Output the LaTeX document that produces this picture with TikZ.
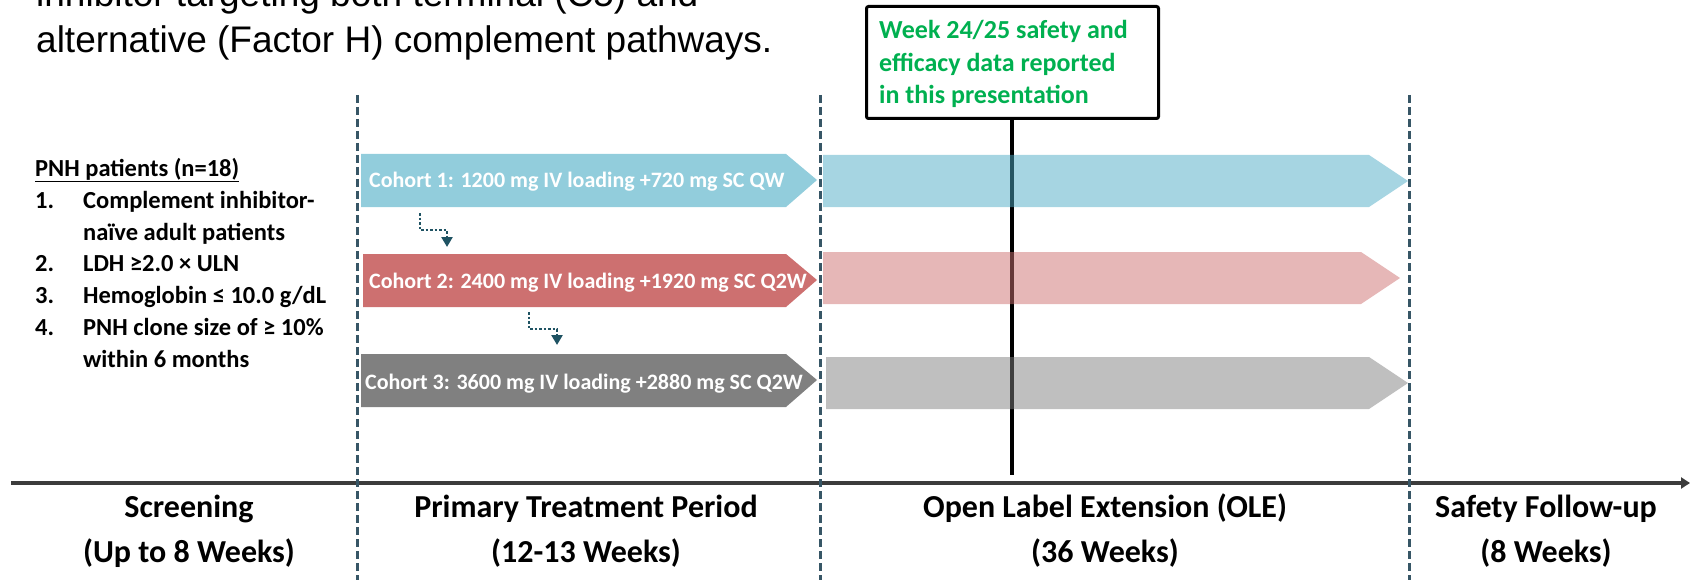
\documentclass[tikz,border=0pt]{standalone}
\usepackage{fontspec}
\setmainfont{Carlito}
\newfontfamily\arialfont{Liberation Sans}
\usetikzlibrary{arrows.meta}

\definecolor{cohortA}{RGB}{146,205,220}
\definecolor{cohortB}{RGB}{205,112,112}
\definecolor{cohortC}{RGB}{128,128,128}
\definecolor{oleA}{RGB}{77,171,197}
\definecolor{oleB}{RGB}{205,112,112}
\definecolor{oleC}{RGB}{127,127,127}
\definecolor{phaseline}{RGB}{55,86,102}
\definecolor{stepline}{RGB}{31,83,99}
\definecolor{axisgray}{RGB}{60,60,60}
\definecolor{reportgreen}{RGB}{0,176,80}

\begin{document}
\begin{tikzpicture}[x=1pt,y=-1pt,
  cohorttext/.style={anchor=base west, inner sep=0pt, text=white,
    font=\fontsize{22}{26}\selectfont\bfseries},
  listtext/.style={anchor=base west, inner sep=0pt,
    font=\fontsize{24.5}{28}\selectfont\bfseries},
  phasetext/.style={anchor=base, inner sep=0pt,
    font=\fontsize{32}{38}\selectfont\bfseries},
  greentext/.style={anchor=base west, inner sep=0pt, text=reportgreen,
    font=\fontsize{26}{30}\selectfont\bfseries},
  introtext/.style={anchor=base west, inner sep=0pt,
    font=\arialfont\fontsize{37}{44}\selectfont},
  phasedash/.style={draw=phaseline, line width=3pt, dash pattern=on 8pt off 4pt},
  stepconn/.style={draw=stepline, line width=2.5pt, dash pattern=on 2.5pt off 2pt,
    -{Triangle[length=10pt,width=11pt]}},
]
\useasboundingbox (0,0) rectangle (1693,580);
\clip (0,0) rectangle (1693,580);

% introductory sentence, partly cut at the top
\node[introtext] (introA) at (36,7) {inhibitor targeting both terminal (C5) and};
\node[introtext] (introB) at (36,53) {alternative (Factor H) complement pathways.};

% eligibility criteria
\node[listtext] (crit0) at (35,176) {\underline{PNH patients (n=18)}};
\node[listtext] (n1) at (35,208) {1.};
\node[listtext] (crit1) at (83,208) {Complement inhibitor-};
\node[listtext] (crit1b) at (83,240) {naïve adult patients};
\node[listtext] (n2) at (35,271) {2.};
\node[listtext] (crit2) at (83,271) {LDH ≥2.0 × ULN};
\node[listtext] (n3) at (35,303) {3.};
\node[listtext] (crit3) at (83,303) {Hemoglobin ≤ 10.0 g/dL};
\node[listtext] (n4) at (35,335) {4.};
\node[listtext] (crit4) at (83,335) {PNH clone size of ≥ 10\%};
\node[listtext] (crit4b) at (83,367) {within 6 months};

% reporting time point
\node[draw, line width=3pt, rounded corners=2pt, minimum width=292pt,
  minimum height=112pt, anchor=north west, inner sep=0pt] (report) at (865,5) {};
\node[greentext] (repA) at (879,39) {Week 24/25 safety and};
\node[greentext] (repB) at (879,72) {efficacy data reported};
\node[greentext] (repC) at (879,104) {in this presentation};
\coordinate (cutoff) at (1012,475);
\draw[line width=4pt] (report.south -| cutoff) -- (cutoff);

% primary treatment period cohorts
\fill[cohortA] (361,154) -- (786,154) -- (817,180) -- (786,207) -- (361,207) -- cycle;
\fill[cohortB] (363,254) -- (786,254) -- (817,280) -- (786,307) -- (363,307) -- cycle;
\fill[cohortC] (361,354) -- (786,354) -- (817,380) -- (786,407) -- (361,407) -- cycle;
\node[cohorttext] (coh1) at (369,188) {Cohort 1: 1200 mg IV loading +720 mg SC QW};
\node[cohorttext] (coh2) at (369,288) {Cohort 2: 2400 mg IV loading +1920 mg SC Q2W};
\node[cohorttext] (coh3) at (365,389) {Cohort 3: 3600 mg IV loading +2880 mg SC Q2W};

% open label extension
\fill[oleA, fill opacity=0.5] (823,155) -- (1369,155) -- (1408,181) -- (1369,207) -- (823,207) -- cycle;
\fill[oleB, fill opacity=0.5] (823,252) -- (1361,252) -- (1400,278) -- (1361,304) -- (823,304) -- cycle;
\fill[oleC, fill opacity=0.5] (826,357) -- (1369,357) -- (1408,383) -- (1369,409) -- (826,409) -- cycle;

% sequential cohort escalation
\coordinate (esc1a) at (420,213);
\coordinate (esc1b) at (447,247);
\coordinate (esc2a) at (529,312);
\coordinate (esc2b) at (557,345);
\draw[stepconn] (esc1a) -- (420,230) -- (447,230) -- (esc1b);
\draw[stepconn] (esc2a) -- (529,329) -- (557,329) -- (esc2b);

% time axis
\coordinate (axL) at (11,483);
\coordinate (axR) at (1690,483);
\draw[axisgray, line width=4pt, -{Triangle[length=9pt,width=11pt]}] (axL) -- (axR);

% phase boundaries
\coordinate (b1t) at (357,95);  \coordinate (b1b) at (357,580);
\coordinate (b2t) at (820,95);  \coordinate (b2b) at (820,580);
\coordinate (b3t) at (1409,95); \coordinate (b3b) at (1409,580);
\draw[phasedash] (b1t) -- (b1b);
\draw[phasedash] (b2t) -- (b2b);
\draw[phasedash] (b3t) -- (b3b);

% phase labels
\node[phasetext] (ph1a) at (189,517) {Screening};
\node[phasetext] (ph1b) at (189,562) {(Up to 8 Weeks)};
\node[phasetext] (ph2a) at (586,517) {Primary Treatment Period};
\node[phasetext] (ph2b) at (586,562) {(12-13 Weeks)};
\node[phasetext] (ph3a) at (1105,517) {Open Label Extension (OLE)};
\node[phasetext] (ph3b) at (1105,562) {(36 Weeks)};
\node[phasetext] (ph4a) at (1546,517) {Safety Follow-up};
\node[phasetext] (ph4b) at (1546,562) {(8 Weeks)};
\end{tikzpicture}
\end{document}
